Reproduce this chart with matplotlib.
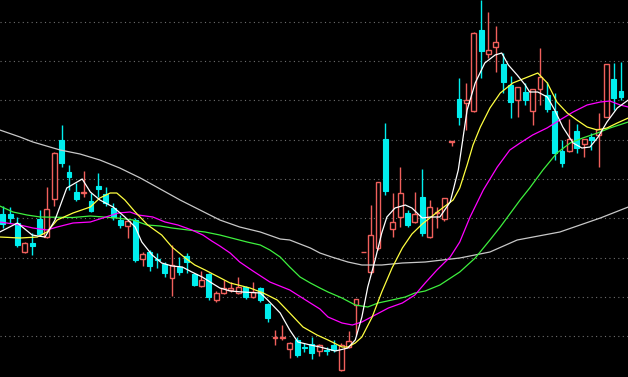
import numpy as np
import matplotlib
matplotlib.use("Agg")
import matplotlib.pyplot as plt

# daily candles (open, high, low, close)
opens = [11.44, 11.44, 11.08, 9.92, 10.28, 11.24, 10.52, 12.04, 14.40, 13.12,
         12.32, 12.28, 11.96, 12.56, 12.24, 11.68, 11.20, 10.96, 11.20, 9.64,
         9.92, 9.66, 9.44, 8.88, 9.32, 9.76, 9.04, 8.56, 9.04, 8.00,
         8.28, 8.40, 8.28, 8.52, 8.12, 8.48, 7.84, 6.50, 6.50, 6.04,
         6.40, 6.14, 6.24, 5.96, 6.00, 6.20, 5.20, 6.12, 7.80, 9.92,
         9.12, 10.08, 14.44, 10.84, 11.32, 11.48, 11.12, 12.12, 10.52, 11.48,
         11.24, 14.32, 16.04, 15.88, 15.56, 18.80, 17.84, 18.12, 17.44, 16.60,
         16.00, 16.32, 15.56, 16.44, 16.20, 15.56, 13.96, 13.96, 14.76, 14.24,
         14.52, 14.60, 15.32, 16.84, 16.36]
highs = [11.76, 11.72, 11.32, 10.32, 10.68, 11.60, 12.52, 13.92, 15.00, 13.40,
         12.68, 13.16, 12.28, 13.08, 12.52, 11.88, 11.40, 11.20, 11.28, 9.92,
         10.00, 9.88, 9.52, 10.20, 9.72, 9.88, 9.08, 9.16, 9.08, 8.36,
         8.80, 8.72, 8.92, 8.56, 8.72, 8.52, 7.88, 6.80, 7.00, 6.32,
         6.52, 6.28, 6.52, 6.24, 6.12, 6.40, 6.28, 6.76, 8.04, 9.92,
         11.80, 12.72, 15.08, 12.28, 13.32, 11.60, 12.32, 13.24, 12.00, 11.72,
         12.08, 14.36, 16.88, 16.68, 18.72, 20.00, 19.52, 18.96, 17.88, 16.96,
         16.52, 16.68, 16.44, 18.08, 16.72, 16.28, 14.40, 15.24, 15.04, 14.44,
         14.68, 15.48, 17.44, 17.48, 17.52]
lows = [10.88, 11.08, 10.12, 9.88, 9.80, 10.56, 10.48, 11.76, 13.32, 12.40,
        11.96, 12.12, 11.52, 12.12, 11.76, 11.20, 10.88, 10.48, 9.52, 9.36,
        9.16, 9.28, 8.92, 8.16, 9.00, 9.08, 8.56, 8.52, 8.00, 7.92,
        8.24, 8.32, 8.24, 8.04, 8.08, 7.92, 7.12, 6.20, 6.40, 5.68,
        5.72, 5.92, 5.64, 5.76, 5.80, 5.92, 5.16, 6.08, 6.60, 9.92,
        9.04, 10.00, 12.20, 10.52, 10.92, 10.92, 11.08, 10.56, 10.48, 10.88,
        11.16, 14.16, 15.00, 14.80, 15.52, 16.88, 17.68, 17.12, 16.28, 15.28,
        15.32, 15.80, 15.00, 15.80, 15.52, 13.60, 13.32, 13.92, 13.88, 13.72,
        14.00, 13.32, 15.32, 15.60, 16.00]
closes = [11.04, 11.28, 10.20, 10.28, 10.16, 10.64, 11.64, 13.88, 13.48, 12.92,
          12.04, 12.32, 11.56, 12.44, 11.88, 11.32, 11.00, 11.16, 9.60, 9.84,
          9.36, 9.62, 9.08, 9.40, 9.12, 9.52, 8.60, 8.80, 8.12, 8.28,
          8.48, 8.48, 8.52, 8.12, 8.32, 8.00, 7.28, 6.54, 6.54, 6.28,
          5.80, 6.10, 5.88, 6.20, 5.96, 6.00, 6.20, 6.36, 8.04, 9.92,
          10.60, 12.72, 12.36, 11.12, 12.28, 11.00, 11.44, 10.68, 11.72, 11.52,
          12.08, 14.36, 15.32, 16.00, 18.68, 17.96, 18.00, 18.32, 16.72, 15.92,
          16.52, 16.00, 16.44, 16.92, 15.64, 13.88, 13.48, 14.44, 14.08, 14.44,
          14.40, 14.84, 17.44, 16.08, 16.12]

# moving average lines, read at (candle index, value)
ma5_x = [-0.4, 2, 4, 4.8, 5.75, 7.1, 8.7, 10.8, 11.9, 13.2, 15.0, 16.6, 18.0, 18.9,
         20.3, 21.6, 23.0, 24.4, 25.7, 27.1, 28.4, 29.5, 30.9, 32.6, 35.0, 36.0,
         37.7, 39.0, 40.1, 41.8, 43.1, 45.2, 46.9, 47.9, 48.8, 49.6, 50.6, 51.5,
         52.2, 53.3, 54.7, 55.6, 57.0, 58.1, 59.4, 60.8, 61.9, 63.1, 64.2, 65.5,
         66.9, 67.8, 68.7, 69.9, 71.0, 71.6, 72.7, 74.0, 75.0, 76.1, 77.5, 78.7,
         79.8, 80.9, 82.1, 83.5, 85.0]
ma5_y = [10.72, 11.08, 10.6, 10.56, 10.52, 11.2, 12.48, 12.84, 12.32, 12.0, 11.72,
         11.32, 10.92, 10.32, 9.8, 9.48, 9.36, 9.32, 9.12, 8.92, 8.68, 8.48, 8.36,
         8.32, 8.28, 8.0, 7.48, 6.8, 6.32, 6.2, 6.12, 5.96, 6.08, 6.4, 7.32, 8.52,
         9.6, 10.68, 11.32, 11.68, 11.8, 11.68, 11.28, 11.32, 11.32, 11.92, 13.2,
         15.6, 16.68, 17.48, 17.8, 17.88, 17.4, 17.0, 16.6, 16.32, 16.32, 16.12,
         15.6, 14.92, 14.28, 14.08, 14.12, 14.52, 15.12, 15.68, 16.0]

ma10_x = [-0.4, 2.35, 4.7, 6.0, 7.4, 9.55, 11.9, 13.2, 14.6, 15.5, 16.6, 18.0, 19.7,
          21.6, 23.0, 24.8, 26.1, 27.5, 28.8, 30.9, 33.6, 35.4, 37.3, 39.0, 40.8,
          42.7, 44.2, 46.1, 46.9, 47.9, 48.8, 50.2, 51.5, 52.9, 54.3, 55.6, 57.0,
          59.4, 61.2, 62.1, 63.1, 63.9, 64.9, 66.2, 67.6, 69.3, 71.0, 72.7, 74.0,
          75.3, 76.7, 78.0, 79.4, 80.8, 82.1, 83.5, 85.0]
ma10_y = [10.52, 10.48, 10.52, 10.72, 11.2, 11.48, 11.72, 12.08, 12.28, 12.28, 12.0,
          11.52, 11.0, 10.6, 10.12, 9.68, 9.4, 9.2, 9.0, 8.68, 8.48, 8.28, 8.0,
          7.48, 6.92, 6.6, 6.4, 6.12, 6.12, 6.28, 6.52, 7.32, 8.32, 9.28, 10.08,
          10.64, 11.04, 11.6, 12.0, 12.48, 13.4, 14.2, 14.92, 15.68, 16.28, 16.68,
          16.88, 17.08, 16.68, 15.92, 15.48, 15.2, 14.92, 14.8, 14.88, 15.08, 15.28]

ma20_x = [-0.4, 2.35, 4.1, 6.0, 7.4, 9.55, 11.9, 13.6, 15.7, 17.3, 18.4, 20.4, 22.05,
          23.8, 25.7, 27.2, 28.4, 29.5, 30.9, 32.2, 34.0, 36.3, 39.0, 41.8, 43.1,
          44.2, 46.1, 47.5, 48.8, 50.6, 52.4, 54.3, 56.0, 57.4, 59.0, 60.8, 62.1,
          63.5, 65.3, 67.2, 68.9, 70.3, 72.0, 73.95, 75.7, 77.5, 79.4, 81.2, 82.5,
          83.9, 85.0]
ma20_y = [11.12, 11.0, 10.88, 10.8, 10.92, 11.08, 11.12, 11.28, 11.48, 11.52, 11.4,
          11.32, 11.12, 11.0, 10.8, 10.6, 10.36, 10.16, 9.88, 9.52, 9.16, 8.72, 8.4,
          7.88, 7.64, 7.32, 7.08, 7.0, 7.12, 7.4, 7.68, 7.88, 8.2, 8.68, 9.2, 9.72,
          10.32, 11.32, 12.4, 13.32, 14.0, 14.28, 14.6, 14.88, 15.2, 15.52, 15.8,
          15.92, 15.96, 15.8, 15.72]

ma30_x = [-0.4, 1.4, 3.3, 5.1, 9.55, 11.9, 15.5, 17.7, 19.6, 21.4, 23.0, 25.2, 27.5,
          29.5, 33.2, 35.0, 36.3, 37.7, 39.0, 40.4, 41.8, 43.1, 44.2, 46.1, 47.9,
          49.6, 51.0, 52.9, 54.7, 56.0, 57.4, 59.4, 62.1, 64.2, 66.2, 67.6, 70.3,
          71.6, 73.4, 75.3, 77.1, 78.8, 80.8, 82.5, 85.0]
ma30_y = [11.76, 11.52, 11.4, 11.32, 11.3, 11.36, 11.28, 11.2, 11.0, 10.96, 10.88,
          10.8, 10.72, 10.6, 10.32, 10.2, 10.0, 9.72, 9.32, 8.92, 8.68, 8.48, 8.32,
          8.08, 7.8, 7.72, 7.88, 8.0, 8.12, 8.28, 8.36, 8.6, 9.12, 9.68, 10.4,
          10.92, 12.0, 12.48, 13.2, 13.88, 14.28, 14.48, 14.68, 14.88, 15.12]

ma60_x = [-0.4, 2.35, 4.1, 7.8, 10.5, 13.2, 15.9, 18.7, 21.4, 24.1, 26.8, 29.5, 32.2,
          35.0, 37.7, 39.0, 41.8, 43.1, 44.7, 46.9, 48.8, 51.5, 54.3, 57.4, 62.1,
          66.2, 69.9, 75.7, 81.2, 85.0]
ma60_y = [14.8, 14.52, 14.32, 14.0, 13.84, 13.6, 13.28, 12.88, 12.44, 12.0, 11.6,
          11.2, 10.92, 10.72, 10.44, 10.4, 10.08, 9.88, 9.72, 9.52, 9.4, 9.4, 9.48,
          9.52, 9.68, 9.92, 10.4, 10.72, 11.28, 11.72]

grid_levels = [6.56, 8.13, 9.70, 11.27, 12.84, 14.41, 15.98, 17.55, 19.12]

bg = "#000000"
up_col = "#f0605c"
down_col = "#00eeee"

fig = plt.figure(figsize=(6.28, 3.77), dpi=100, facecolor=bg)
ax = fig.add_axes([0, 0, 1, 1], facecolor=bg)

for lv in grid_levels:
    ax.axhline(lv, color="#6e6e6e", lw=0.8, ls=(0, (1, 3)), zorder=1)

n = len(opens)
idx = np.arange(n)
o = np.array(opens)
h = np.array(highs)
l = np.array(lows)
c = np.array(closes)
up = c >= o
top = np.maximum(o, c)
bot = np.minimum(o, c)

# wicks: hollow red candles keep their inside empty
ax.vlines(idx[~up], l[~up], h[~up], color=down_col, lw=1.0, zorder=2)
ax.vlines(idx[up], top[up], h[up], color=up_col, lw=1.0, zorder=2)
ax.vlines(idx[up], l[up], bot[up], color=up_col, lw=1.0, zorder=2)

w = 0.66
ax.bar(idx[~up], (top - bot)[~up], bottom=bot[~up], width=w,
       color=down_col, edgecolor=down_col, linewidth=0.8, zorder=3)
ax.bar(idx[up], (top - bot)[up], bottom=bot[up], width=w,
       facecolor=bg, edgecolor=up_col, linewidth=1.0, zorder=3)

ax.plot(ma60_x, ma60_y, color="#c8c8c8", lw=0.9, zorder=4)
ax.plot(ma30_x, ma30_y, color="#3ef03e", lw=0.9, zorder=4)
ax.plot(ma20_x, ma20_y, color="#ff00ff", lw=0.9, zorder=4)
ax.plot(ma10_x, ma10_y, color="#ffff40", lw=0.9, zorder=4)
ax.plot(ma5_x, ma5_y, color="#ffffff", lw=0.9, zorder=5)

ax.set_xlim(-0.37, 84.96)
ax.set_ylim(4.92, 20.0)
ax.axis("off")

fig.savefig("out.png", dpi=100, facecolor=bg)
